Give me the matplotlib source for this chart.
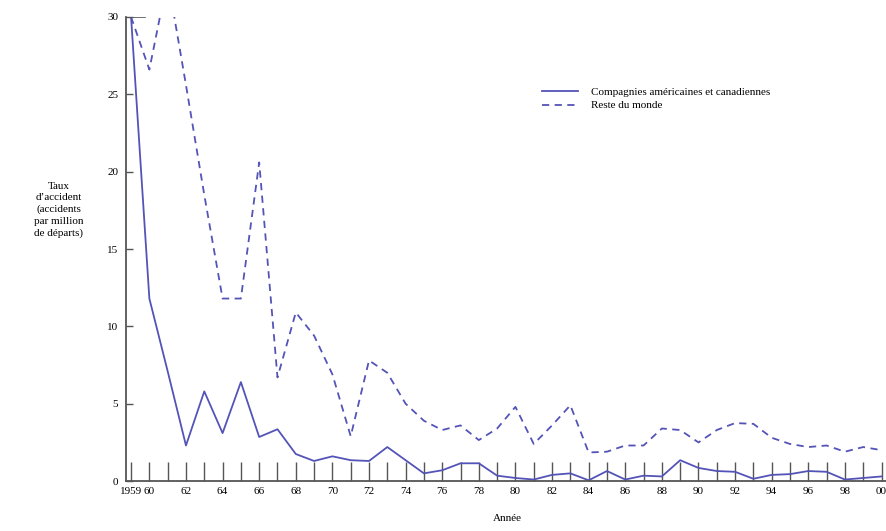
import matplotlib
matplotlib.use("Agg")
import matplotlib.pyplot as plt

plt.rcParams['font.family'] = ['Liberation Serif', 'DejaVu Serif']

years = list(range(1959, 2001))

# Compagnies américaines et canadiennes
us_canada = [30.0, 11.8, 7.1, 2.3, 5.8, 3.1, 6.4, 2.85, 3.35, 1.75,
             1.3, 1.6, 1.35, 1.3, 2.2, 1.35, 0.5, 0.7, 1.15, 1.15,
             0.35, 0.2, 0.1, 0.4, 0.5, 0.05, 0.65, 0.1, 0.35, 0.3,
             1.35, 0.85, 0.65, 0.6, 0.15, 0.4, 0.45, 0.65, 0.6, 0.1,
             0.2, 0.3]

# Reste du monde
rest_world = [30.0, 26.6, 32.5, 25.6, 18.5, 11.8, 11.8, 20.6, 6.7, 10.9,
              9.4, 6.9, 2.9, 7.8, 7.0, 5.0, 3.9, 3.3, 3.6, 2.65,
              3.4, 4.8, 2.4, 3.6, 4.9, 1.85, 1.9, 2.3, 2.3, 3.4,
              3.3, 2.5, 3.3, 3.75, 3.7, 2.8, 2.4, 2.2, 2.3, 1.9,
              2.2, 2.0]

x_ticklabels = ['1959', '60'] + [f"{y % 100:02d}" if y % 2 == 0 else '' for y in years[2:]]
x_ticklabels[1] = '60'
for i, y in enumerate(years):
    if y > 1960 and y % 2 == 1:
        x_ticklabels[i] = ''

y_ticks = [0, 5, 10, 15, 20, 25, 30]

line_color = '#5454b8'
axis_color = '#555555'

fig = plt.figure(figsize=(8.87, 5.31), dpi=100)
ax = fig.add_axes([0.1426, 0.094, 0.8574, 0.874])

ax.plot(years, us_canada, color=line_color, lw=1.3, label='Compagnies américaines et canadiennes')
ax.plot(years, rest_world, color=line_color, lw=1.3, linestyle=(0, (4, 3)), label='Reste du monde')
ax.axhline(30, xmax=0.025, color=axis_color, lw=1.2)

ax.set_xlim(1958.75, 2000.3)
ax.set_ylim(0, 30)

ax.set_xticks(years)
ax.set_xticklabels(x_ticklabels)
ax.set_yticks(y_ticks)
ax.tick_params(axis='x', direction='in', length=14, width=1, color=axis_color,
               labelsize=8, pad=4)
ax.tick_params(axis='y', direction='in', length=5, width=1, color=axis_color,
               labelsize=8, pad=6)

for side in ['top', 'right']:
    ax.spines[side].set_visible(False)
for side in ['left', 'bottom']:
    ax.spines[side].set_color(axis_color)
    ax.spines[side].set_linewidth(1.3)

fig.text(0.5716, 0.015, 'Année', ha='center', va='bottom', fontsize=8)
fig.text(0.066, 0.605, 'Taux\nd’accident\n(accidents\npar million\nde départs)',
         ha='center', va='center', fontsize=8, linespacing=1.35)

ax.legend(loc='upper left', bbox_to_anchor=(0.6, 0.855), bbox_transform=fig.transFigure,
          frameon=False, fontsize=8, handlelength=3.2, handletextpad=1.2,
          labelspacing=0.35)

fig.savefig('out.png', dpi=100)
